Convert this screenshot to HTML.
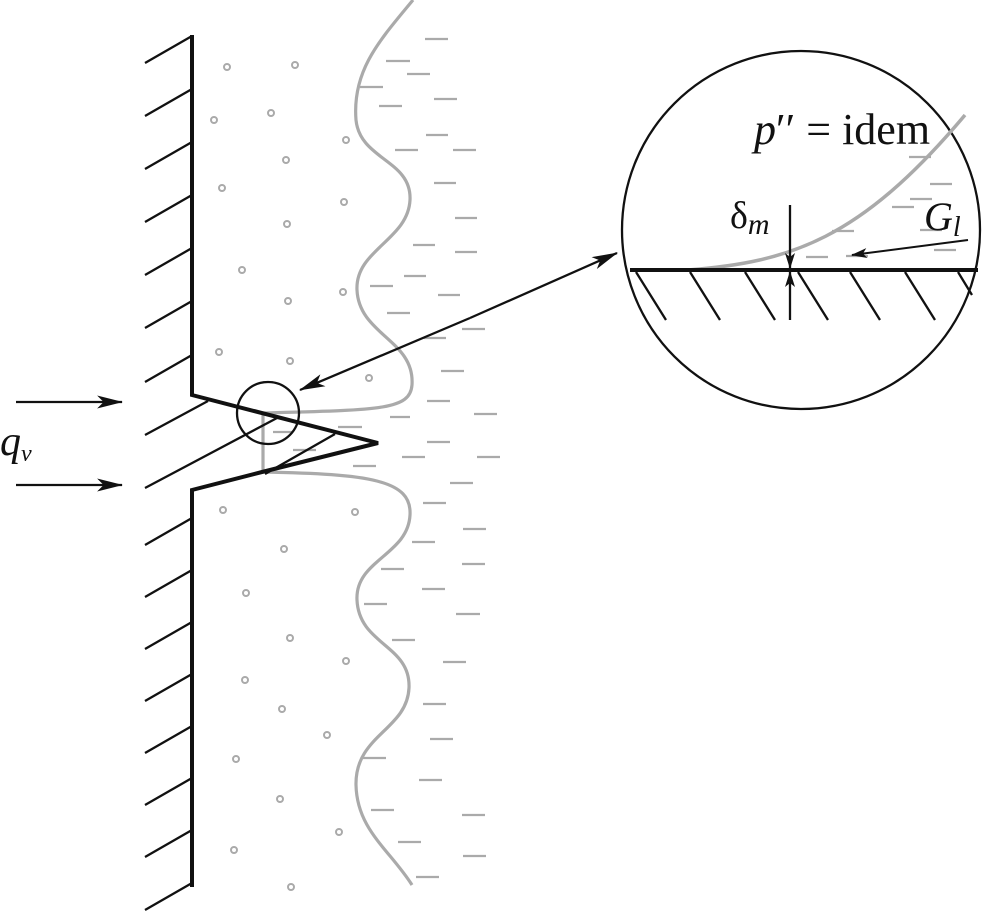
<!DOCTYPE html>
<html><head><style>body{margin:0;background:#fff}svg{display:block}</style></head><body>
<svg width="992" height="913" viewBox="0 0 992 913" xmlns="http://www.w3.org/2000/svg">
<defs>
<marker id="ah" viewBox="0 0 24 12" refX="23" refY="6" markerWidth="26" markerHeight="13" markerUnits="userSpaceOnUse" orient="auto"><path d="M0,0 L24,6 L0,12 L6,6 Z" fill="#111"/></marker>
<marker id="ahs" viewBox="0 0 16 10" refX="15" refY="5" markerWidth="16" markerHeight="10" markerUnits="userSpaceOnUse" orient="auto"><path d="M0,0 L16,5 L0,10 L4,5 Z" fill="#111"/></marker>
</defs>
<g stroke="#aaa" stroke-width="3.2" fill="none">
<path d="M413,0 C380,40 352,70 356,120 C360,160 412,160 410,200 C408,240 355,250 357,290 C359,335 415,340 412,385 C410,410 380,410 263,413 L263,472 C370,474 412,480 410,515 C408,555 355,560 357,600 C359,645 411,645 409,688 C407,730 355,735 356,785 C357,830 390,850 412,885"/>
</g>
<g stroke="#aaa" stroke-width="2.2" fill="none">
<path d="M425,39h23M386,61h24M407,74h23M360,87h23M434,99h23M379,106h23M426,135h22M395,150h23M453,150h23M434,183h22M455,218h22M413,245h22M455,252h22M404,276h22M370,286h23M438,295h22M387,313h23M462,329h23M424,338h22M441,371h23M427,401h23M474,414h23M390,417h20M338,427h24M273,432h20M427,442h23M293,450h23M402,457h23M477,457h23M353,466h23M450,483h23M423,503h23M463,529h23M412,542h23M462,564h23M381,569h23M422,589h23M364,604h23M456,614h24M392,640h23M443,662h23M423,704h23M430,739h23M363,758h23M419,780h23M371,810h23M462,815h23M398,842h23M463,856h23M416,877h23"/>
<path d="M909,157h22M930,184h22M910,199h22M892,207h22M832,231h22M920,230h22M934,250h22M806,257h22M846,256h22"/>
</g>
<g stroke="#aaa" stroke-width="2" fill="none">
<circle cx="227" cy="67" r="3"/><circle cx="295" cy="65" r="3"/><circle cx="214" cy="120" r="3"/><circle cx="271" cy="113" r="3"/><circle cx="346" cy="140" r="3"/><circle cx="286" cy="160" r="3"/><circle cx="222" cy="188" r="3"/><circle cx="344" cy="202" r="3"/><circle cx="287" cy="224" r="3"/><circle cx="242" cy="270" r="3"/><circle cx="343" cy="292" r="3"/><circle cx="288" cy="301" r="3"/><circle cx="219" cy="352" r="3"/><circle cx="290" cy="361" r="3"/><circle cx="369" cy="378" r="3"/>
<circle cx="223" cy="510" r="3"/><circle cx="355" cy="512" r="3"/><circle cx="284" cy="549" r="3"/><circle cx="246" cy="593" r="3"/><circle cx="290" cy="638" r="3"/><circle cx="346" cy="661" r="3"/><circle cx="245" cy="680" r="3"/><circle cx="282" cy="709" r="3"/><circle cx="327" cy="735" r="3"/><circle cx="236" cy="759" r="3"/><circle cx="280" cy="799" r="3"/><circle cx="339" cy="832" r="3"/><circle cx="234" cy="850" r="3"/><circle cx="291" cy="887" r="3"/>
</g>
<g stroke="#111" stroke-width="2.3" fill="none">
<path d="M145,63l47,-27M145,116l47,-27M145,169l47,-27M145,222l47,-27M145,275l47,-27M145,328l47,-27M145,382l47,-27"/>
<path d="M145,435l63,-34M145,488l132,-70M265,474l70,-40"/>
<path d="M145,545l47,-27M145,597l47,-27M145,649l47,-27M145,701l47,-27M145,753l47,-27M145,805l47,-27M145,857l47,-27M145,910l47,-27"/>
<circle cx="268" cy="413" r="31"/>
<circle cx="801" cy="230" r="179"/>
<line x1="16" y1="402" x2="122" y2="402" marker-end="url(#ah)"/>
<line x1="16" y1="485" x2="122" y2="485" marker-end="url(#ah)"/>
<line x1="470" y1="318" x2="300" y2="390" marker-end="url(#ah)"/>
<line x1="470" y1="318" x2="617" y2="253" marker-end="url(#ah)"/>
</g>
<path d="M192,35 V395 L378,443 L262,472 L192,490 V887" stroke="#111" stroke-width="4" fill="none"/>
<path d="M688,270 C790,262 860,240 965,115" stroke="#aaa" stroke-width="3.5" fill="none"/>
<g stroke="#111" stroke-width="2.3" fill="none">
<line x1="630" y1="270" x2="978" y2="270" stroke-width="4"/>
<path d="M636,272l30,48M690,272l30,48M745,272l30,48M798,272l30,48M850,272l30,48M905,272l30,48M958,272l14,23"/>
<line x1="790" y1="205" x2="790" y2="268" marker-end="url(#ahs)"/>
<line x1="790" y1="320" x2="790" y2="272" marker-end="url(#ahs)"/>
<line x1="968" y1="240" x2="852" y2="255" stroke-width="2" marker-end="url(#ahs)"/>
</g>
<g font-family="Liberation Serif, serif" fill="#111">
<text x="754" y="144" font-size="44"><tspan font-style="italic">p</tspan>′′ = idem</text>
<text x="730" y="228" font-size="38">δ<tspan font-style="italic" font-size="30" dy="6">m</tspan></text>
<text x="924" y="230" font-size="40" font-style="italic">G<tspan font-size="28" dy="6">l</tspan></text>
<text x="0" y="455" font-size="42" font-style="italic">q<tspan font-size="24" dy="6">v</tspan></text>
</g>
</svg>
</body></html>
